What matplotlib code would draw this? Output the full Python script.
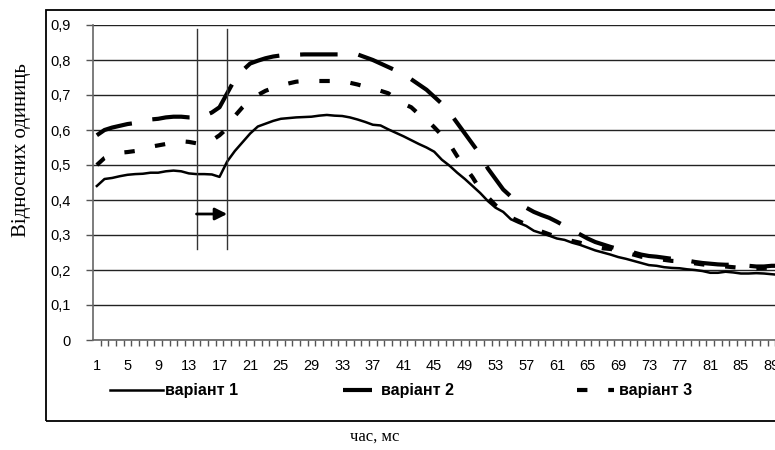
#!/usr/bin/env python3
# -*- coding: utf-8 -*-

import matplotlib
matplotlib.use("Agg")
import matplotlib.pyplot as plt
from matplotlib.patches import Rectangle

# x categories 1..90
categories = list(range(1, 91))
tick_labels = [str(i) for i in range(1, 90, 4)]

variant_1 = [
    0.440, 0.460, 0.463, 0.468, 0.472, 0.474, 0.475, 0.478, 0.478, 0.482,
    0.484, 0.482, 0.476, 0.474, 0.474, 0.473, 0.466, 0.510, 0.540, 0.565,
    0.590, 0.610, 0.618, 0.626, 0.632, 0.634, 0.636, 0.637, 0.638, 0.641,
    0.643, 0.641, 0.640, 0.636, 0.630, 0.623, 0.615, 0.613, 0.602, 0.592,
    0.582, 0.571, 0.560, 0.550, 0.538, 0.515, 0.498, 0.478, 0.460, 0.440,
    0.420, 0.397, 0.378, 0.366, 0.345, 0.335, 0.326, 0.312, 0.305, 0.298,
    0.290, 0.286, 0.278, 0.272, 0.264, 0.256, 0.250, 0.244, 0.237, 0.232,
    0.226, 0.220, 0.214, 0.212, 0.208, 0.206, 0.205, 0.202, 0.200, 0.197,
    0.192, 0.192, 0.195, 0.193, 0.190, 0.190, 0.191, 0.190, 0.188, 0.186,
]
variant_2 = [
    0.585, 0.600, 0.607, 0.612, 0.617, 0.620, 0.625, 0.630, 0.632, 0.636,
    0.638, 0.638, 0.636, 0.636, 0.640, 0.650, 0.665, 0.705, 0.745, 0.770,
    0.790, 0.798, 0.805, 0.810, 0.813, 0.815, 0.815, 0.816, 0.816, 0.816,
    0.816, 0.816, 0.816, 0.816, 0.816, 0.808, 0.800, 0.790, 0.780, 0.770,
    0.760, 0.745, 0.730, 0.715, 0.695, 0.675, 0.650, 0.620, 0.590, 0.560,
    0.530, 0.490, 0.460, 0.430, 0.410, 0.393, 0.378, 0.366, 0.357, 0.349,
    0.338, 0.326, 0.314, 0.302, 0.290, 0.280, 0.273, 0.266, 0.260, 0.256,
    0.250, 0.244, 0.240, 0.238, 0.235, 0.232, 0.229, 0.227, 0.223, 0.220,
    0.218, 0.216, 0.215, 0.215, 0.214, 0.212, 0.210, 0.210, 0.212, 0.212,
]
variant_3 = [
    0.500, 0.520, 0.530, 0.535, 0.537, 0.540, 0.546, 0.552, 0.556, 0.560,
    0.566, 0.568, 0.566, 0.562, 0.562, 0.570, 0.585, 0.605, 0.640, 0.665,
    0.685, 0.700, 0.712, 0.720, 0.728, 0.733, 0.738, 0.740, 0.740, 0.740,
    0.740, 0.740, 0.740, 0.735, 0.730, 0.724, 0.720, 0.712, 0.705, 0.690,
    0.675, 0.665, 0.645, 0.630, 0.608, 0.585, 0.560, 0.525, 0.495, 0.465,
    0.430, 0.408, 0.385, 0.370, 0.350, 0.340, 0.330, 0.318, 0.310, 0.302,
    0.295, 0.290, 0.283, 0.278, 0.272, 0.266, 0.262, 0.260, 0.256, 0.250,
    0.244, 0.238, 0.235, 0.232, 0.229, 0.226, 0.225, 0.222, 0.219, 0.216,
    0.213, 0.212, 0.210, 0.208, 0.206, 0.205, 0.205, 0.206, 0.207, 0.206,
]
series_names = ["варіант 1", "варіант 2", "варіант 3"]

# marked interval (vertical lines + arrow)
marker_x = [14, 18]
marker_y = [0.26, 0.89]
arrow_y = 0.36

sans = ["Liberation Sans", "DejaVu Sans"]
serif = ["Liberation Serif", "DejaVu Serif"]

fig = plt.figure(figsize=(7.75, 4.5), dpi=100)
ax = fig.add_axes([93 / 775, 1 - 340 / 450, 1 - 93 / 775 + 0.002, (340 - 25) / 450])

# outer chart frame (right side cut off like in the source)
fig.patches.append(Rectangle((46 / 775, 1 - 421 / 450), 1.2, (421 - 10) / 450,
                             transform=fig.transFigure, fill=False,
                             edgecolor="black", lw=1.3, zorder=0))

l1, = ax.plot(categories, variant_1, color="black", lw=1.8, label=series_names[0],
              solid_joinstyle="round")
l2, = ax.plot(categories, variant_2, color="black", lw=3.0, linestyle=(0, (9, 5)),
              label=series_names[1])
l3, = ax.plot(categories, variant_3, color="black", lw=3.0, linestyle=(0, (2.5, 5)),
              label=series_names[2])

for xv in marker_x:
    ax.plot([xv, xv], marker_y, color="#333333", lw=1.0)
ax.annotate("", xy=(marker_x[1], arrow_y), xytext=(marker_x[0], arrow_y),
            arrowprops=dict(arrowstyle="-|>", color="black", lw=2.0,
                            mutation_scale=18, shrinkA=0, shrinkB=0))

ax.set_xlim(0.5, 0.5 + 682 / 7.65)
ax.set_ylim(0, 0.9)

ax.set_yticks([i / 10 for i in range(10)])
ax.set_yticklabels(["0"] + ["0,%d" % i for i in range(1, 10)], family=sans, fontsize=10.5)
ax.yaxis.grid(True, color="#222222", lw=1.0)
ax.set_axisbelow(True)
ax.tick_params(axis="y", length=5, width=1, color="#555555", pad=11)

ax.set_xticks(range(1, 90, 4))
ax.set_xticklabels(tick_labels, family=sans, fontsize=10.5)
ax.set_xticks([c + 0.5 for c in categories[:-1]], minor=True)
ax.tick_params(axis="x", which="major", length=0, pad=14)
ax.tick_params(axis="x", which="minor", length=4, width=1, color="#555555")

for side in ["top", "right"]:
    ax.spines[side].set_visible(False)
for side in ["left", "bottom"]:
    ax.spines[side].set_color("#666666")
    ax.spines[side].set_linewidth(1.2)

# legend entries placed one by one, like the source
legend_x = [110, 343, 577]
handle_len = [3.3, 1.8, 2.3]
text_pad = [0.15, 0.6, 0.3]
for line, x0, hl, tp in zip([l1, l2, l3], legend_x, handle_len, text_pad):
    fig.legend(handles=[line], loc="center left",
               bbox_to_anchor=(x0 / 775, 1 - 391 / 450),
               frameon=False, borderpad=0, borderaxespad=0,
               handlelength=hl, handletextpad=tp,
               prop={"family": sans, "weight": "bold", "size": 11.5})

fig.text(22 / 775, 1 - 150 / 450, "Відносних одиниць", rotation=90,
         ha="center", va="center", family=serif, fontsize=15)
fig.text(375 / 775, 1 - 437 / 450, "час, мс", ha="center", va="center",
         family=serif, fontsize=12)

plt.savefig("out.png", dpi=100)
